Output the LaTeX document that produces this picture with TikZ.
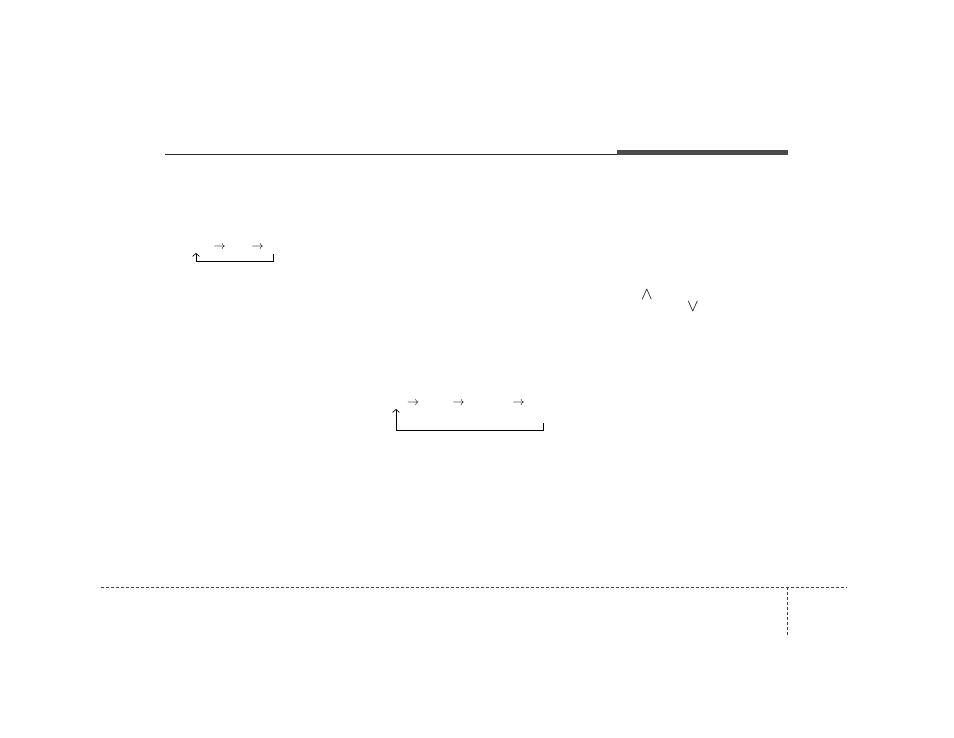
\documentclass[tikz,border=0pt]{standalone}
\usetikzlibrary{positioning,arrows.meta}
\definecolor{rulegray}{HTML}{4A4A4A}
\definecolor{dashgray}{HTML}{444444}
\begin{document}
\begin{tikzpicture}[x=1pt, y=-1pt, node distance={38pt},
    glyph/.style = {inner sep=0pt, font=\fontsize{11.5}{13}\selectfont},
    caret/.style = {inner sep=0pt, font=\fontsize{16.5}{18}\selectfont},
    loop/.style = {line width=0.7pt, -{Straight Barb[length=3pt,width=7pt]}},
    cut/.style = {line width=0.8pt, dashgray, dash pattern=on 3pt off 2pt}]
    \useasboundingbox (0,0) rectangle (954,737);
    % header
    \coordinate (head-l) at (165,154.5);
    \coordinate (head-m) at (617,154.5);
    \fill[rulegray] (617,150) rectangle (788,155);
    \draw[line width=1pt, black!85] (head-l) -- (head-m);
    % first cycle
    \node[glyph] (a-1) at (219.5,247.5) {$\rightarrow$};
    \node[glyph, right of = a-1] (a-2) {$\rightarrow$};
    \coordinate (a-end) at (273,254);
    \coordinate (a-r) at (273,261);
    \coordinate (a-l) at (196,261);
    \coordinate (a-tip) at (196,253);
    \draw[loop] (a-end) -- (a-r) -- (a-l) -- (a-tip);
    % second cycle
    \node[glyph] (b-1) at (413,403.5) {$\rightarrow$};
    \node[glyph, right of = b-1, node distance=45.5pt] (b-2) {$\rightarrow$};
    \node[glyph, right of = b-2, node distance=60pt] (b-3) {$\rightarrow$};
    \coordinate (b-end) at (543,423);
    \coordinate (b-r) at (543,430);
    \coordinate (b-l) at (396,430);
    \coordinate (b-tip) at (396,409);
    \draw[loop] (b-end) -- (b-r) -- (b-l) -- (b-tip);
    % up / down
    \node[caret] (up) at (647,294.5) {$\wedge$};
    \node[caret] (down) at (693,307) {$\vee$};
    % footer
    \coordinate (foot-l) at (101,587);
    \coordinate (foot-m) at (787,587);
    \coordinate (foot-r) at (847,587);
    \coordinate (foot-d) at (787,636);
    \draw[cut] (foot-l) -- (foot-r);
    \draw[cut] (foot-m) -- (foot-d);
\end{tikzpicture}
\end{document}
